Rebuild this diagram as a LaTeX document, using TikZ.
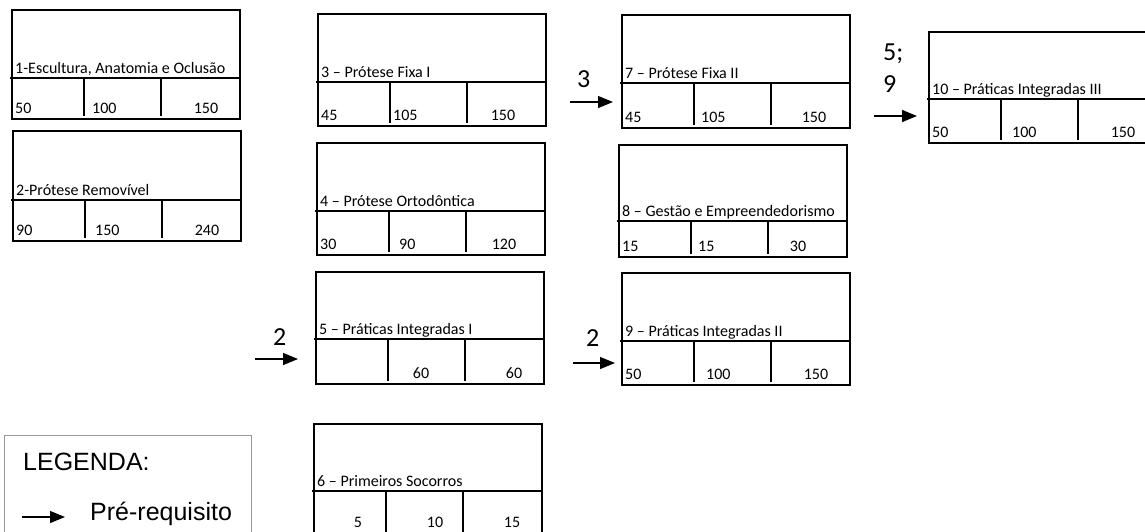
\documentclass[tikz,border=0pt]{standalone}
\usepackage{fontspec}
\setmainfont{Carlito}
\newfontfamily\legendafont{Liberation Sans}
\usetikzlibrary{arrows.meta,positioning,calc}

\tikzset{
  caixa/.style={draw, line width=2.6pt, anchor=north west, inner sep=0pt,
    outer sep=0pt, minimum width=228pt},
  divisor/.style={line width=2.6pt},
  titulo/.style={anchor=base west, inner sep=0pt, font=\fontsize{16pt}{19pt}\selectfont},
  nesq/.style={anchor=base west, inner sep=0pt, font=\fontsize{16pt}{19pt}\selectfont},
  ncen/.style={anchor=base, inner sep=0pt, font=\fontsize{16pt}{19pt}\selectfont},
  prereq/.style={-{Triangle[length=15pt,width=12pt]}, line width=1.2pt},
  rotulo/.style={anchor=base west, inner sep=0pt, font=\fontsize{26pt}{30pt}\selectfont},
}

% uma disciplina: [recuo dos numeros], nome, canto, linha do titulo, altura, titulo, numeros (dx/estilo/texto)
\newcommand{\disciplina}[7][6]{%
  \node[caixa, minimum height=#5pt] (#2) at #3 {};
  \draw[divisor] ($(#2.north west)+(-2,#4)$) -- ($(#2.north east)+(0,#4)$);
  \draw[divisor] ($(#2.north west)+(72,#4)$) -- ($(#2.south west)+(72,-3)$);
  \draw[divisor] ($(#2.north west)+(149,#4)$) -- ($(#2.south west)+(149,-3)$);
  \node[titulo] (#2-t) at ($(#2.north west)+(3,#4-5)$) {#6};
  \foreach \dx/\est/\txt [count=\i] in {#7}
    \node[\est] (#2-n\i) at ($(#2.south west)+(\dx,-#1)$) {\txt};
}

\begin{document}
\begin{tikzpicture}[x=1pt, y=-1pt]
  \useasboundingbox (0,0) rectangle (1145,531);
  \fill[white] (0,0) rectangle (1145,531);
  \clip (0,0) rectangle (1145,531);

  % disciplinas
  \disciplina{d1}{(12,10)}{68}{109}{1-Escultura, Anatomia e Oclusão}{3/nesq/50, 80/nesq/100, 194/ncen/150}
  \disciplina{d2}{(13,131)}{69}{110}{2-Prótese Removível}{3/nesq/90, 82/nesq/150, 194/ncen/240}
  \disciplina{d3}{(318,14)}{68}{112}{3 – Prótese Fixa I}{3/nesq/45, 75/nesq/105, 185/ncen/150}
  \disciplina{d4}{(317,143)}{68}{112}{4 – Prótese Ortodôntica}{3/nesq/30, 82/nesq/90, 187/ncen/120}
  \disciplina{d5}{(316,272)}{67}{112}{5 – Práticas Integradas I}{105/ncen/60, 198/ncen/60}
  \disciplina[10]{d6}{(314,424)}{67}{113}{6 – Primeiros Socorros}{44/ncen/5, 121/ncen/10, 198/ncen/15}
  \disciplina{d7}{(622,15)}{68}{113}{7 – Prótese Fixa II}{3/nesq/45, 79/nesq/105, 192/ncen/150}
  \disciplina{d8}{(619,145)}{76}{112}{8 – Gestão e Empreendedorismo}{3/nesq/15, 79/nesq/15, 179/ncen/30}
  \disciplina{d9}{(622,273)}{68}{112}{9 – Práticas Integradas II}{3/nesq/50, 84/nesq/100, 194/ncen/150}
  \disciplina{d10}{(929,32)}{67}{111}{10 – Práticas Integradas III}{3/nesq/50, 83/nesq/100, 194/ncen/150}

  % pre-requisitos
  \node[rotulo] (r7) at (577,87) {3};
  \coordinate (p7) at (570,102);
  \draw[prereq, shorten >=9pt] (p7) -- (p7 -| d7.west);

  \node[rotulo] (r5) at (273,345) {2};
  \coordinate (p5) at (255,359);
  \draw[prereq, shorten >=18pt] (p5) -- (p5 -| d5.west);

  \node[rotulo] (r9) at (586,346) {2};
  \coordinate (p9) at (573,363);
  \draw[prereq, shorten >=7pt] (p9) -- (p9 -| d9.west);

  \node[rotulo] (r10a) at (883,60) {5;};
  \node[rotulo] (r10b) at (883,92) {9};
  \coordinate (p10) at (874,116);
  \draw[prereq, shorten >=12pt] (p10) -- (p10 -| d10.west);

  % legenda
  \node[draw=gray!80, line width=1pt, anchor=north west, outer sep=0pt,
    minimum width=247pt, minimum height=130pt] (leg) at (4,435) {};
  \node[anchor=base west, inner sep=0pt, font=\legendafont\fontsize{25pt}{30pt}\selectfont]
    (legt) at (23,470) {LEGENDA:};
  \coordinate (lp) at (22,517);
  \node[anchor=base west, inner sep=0pt, font=\legendafont\fontsize{25pt}{30pt}\selectfont]
    (legp) at (90,520) {Pré-requisito};
  \draw[prereq] (lp) -- (lp -| 65,0);
\end{tikzpicture}
\end{document}
